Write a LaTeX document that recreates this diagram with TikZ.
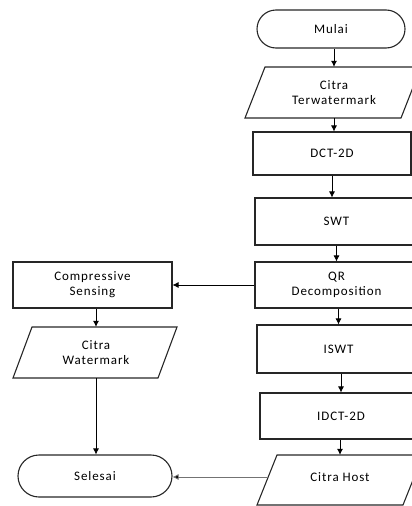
\documentclass[tikz,border=0pt]{standalone}
\usepackage{fontspec}
\setmainfont{Carlito}[LetterSpace=7]
\usetikzlibrary{arrows.meta}
\begin{document}
\begin{tikzpicture}[x=1pt,y=-1pt,
  box/.style={draw=black!85,line width=1.1pt,rectangle,inner sep=0pt,align=center,font=\fontsize{13}{15}\selectfont},
  term/.style={box,rounded corners=19pt},
  para/.style={draw=black!85,line width=1.1pt,line join=miter},
  txt/.style={inner sep=0pt,align=center,font=\fontsize{13}{15}\selectfont},
  arr/.style={draw=black,line width=0.7pt,-{Latex[length=6pt,width=6pt]}},
  garr/.style={draw=black!55,line width=0.8pt,-{Latex[length=6pt,width=6pt,fill=black]}}]
\useasboundingbox (0,0) rectangle (412,506);
\clip (0,0) rectangle (412,506);
% right column
\node[term,minimum width=148pt,minimum height=38pt] (mulai) at (331,29) {Mulai};
\draw[para] (245,118)--(265,67)--(421,67)--(401,118)--cycle;
\node[txt,minimum width=176pt,minimum height=51pt] (ct) at (334,92.5) {Citra\\Terwatermark};
\node[box,minimum width=158pt,minimum height=43pt] (dct) at (332,153.5) {DCT-2D};
\node[box,minimum width=163pt,minimum height=47pt] (swt) at (336.5,221.5) {SWT};
\node[box,minimum width=163pt,minimum height=46pt] (qr) at (336.5,285) {QR\\Decomposition};
\node[box,minimum width=163pt,minimum height=48pt] (iswt) at (338.5,349) {ISWT};
\node[box,minimum width=162pt,minimum height=46pt] (idct) at (341,416) {IDCT-2D};
\draw[para] (257,505)--(277,455)--(423,455)--(403,505)--cycle;
\node[txt,minimum width=166pt,minimum height=50pt] (host) at (340,480) {};
\node[txt] (hostlbl) at (340,477) {Citra Host};
\coordinate (hostw) at (268,477);
% left column
\node[box,minimum width=159pt,minimum height=46pt] (cs) at (92.5,285) {Compressive\\Sensing};
\draw[para] (13,378)--(32,327)--(177,327)--(158,378)--cycle;
\node[txt,minimum width=164pt,minimum height=51pt] (cw) at (96,352.5) {Citra\\Watermark};
\node[term,rounded corners=21pt,minimum width=154pt,minimum height=42pt] (sel) at (95,476) {Selesai};
% connectors
\draw[arr] (ct.north |- mulai.south) -- (ct.north);
\draw[arr] (ct.south) -- (ct.south |- dct.north);
\draw[arr] (dct.south) -- (dct.south |- swt.north);
\draw[arr] (qr.north |- swt.south) -- (qr.north);
\draw[arr] (iswt.north |- qr.south) -- (iswt.north);
\draw[arr] (idct.north |- iswt.south) -- (idct.north);
\draw[arr] (host.north |- idct.south) -- (host.north);
\draw[arr] (qr.west) -- (cs.east);
\draw[arr] (cw.north |- cs.south) -- (cw.north);
\draw[arr] (cw.south) -- (cw.south |- sel.north);
\draw[garr] (hostw) -- (hostw -| sel.east);
\end{tikzpicture}
\end{document}
